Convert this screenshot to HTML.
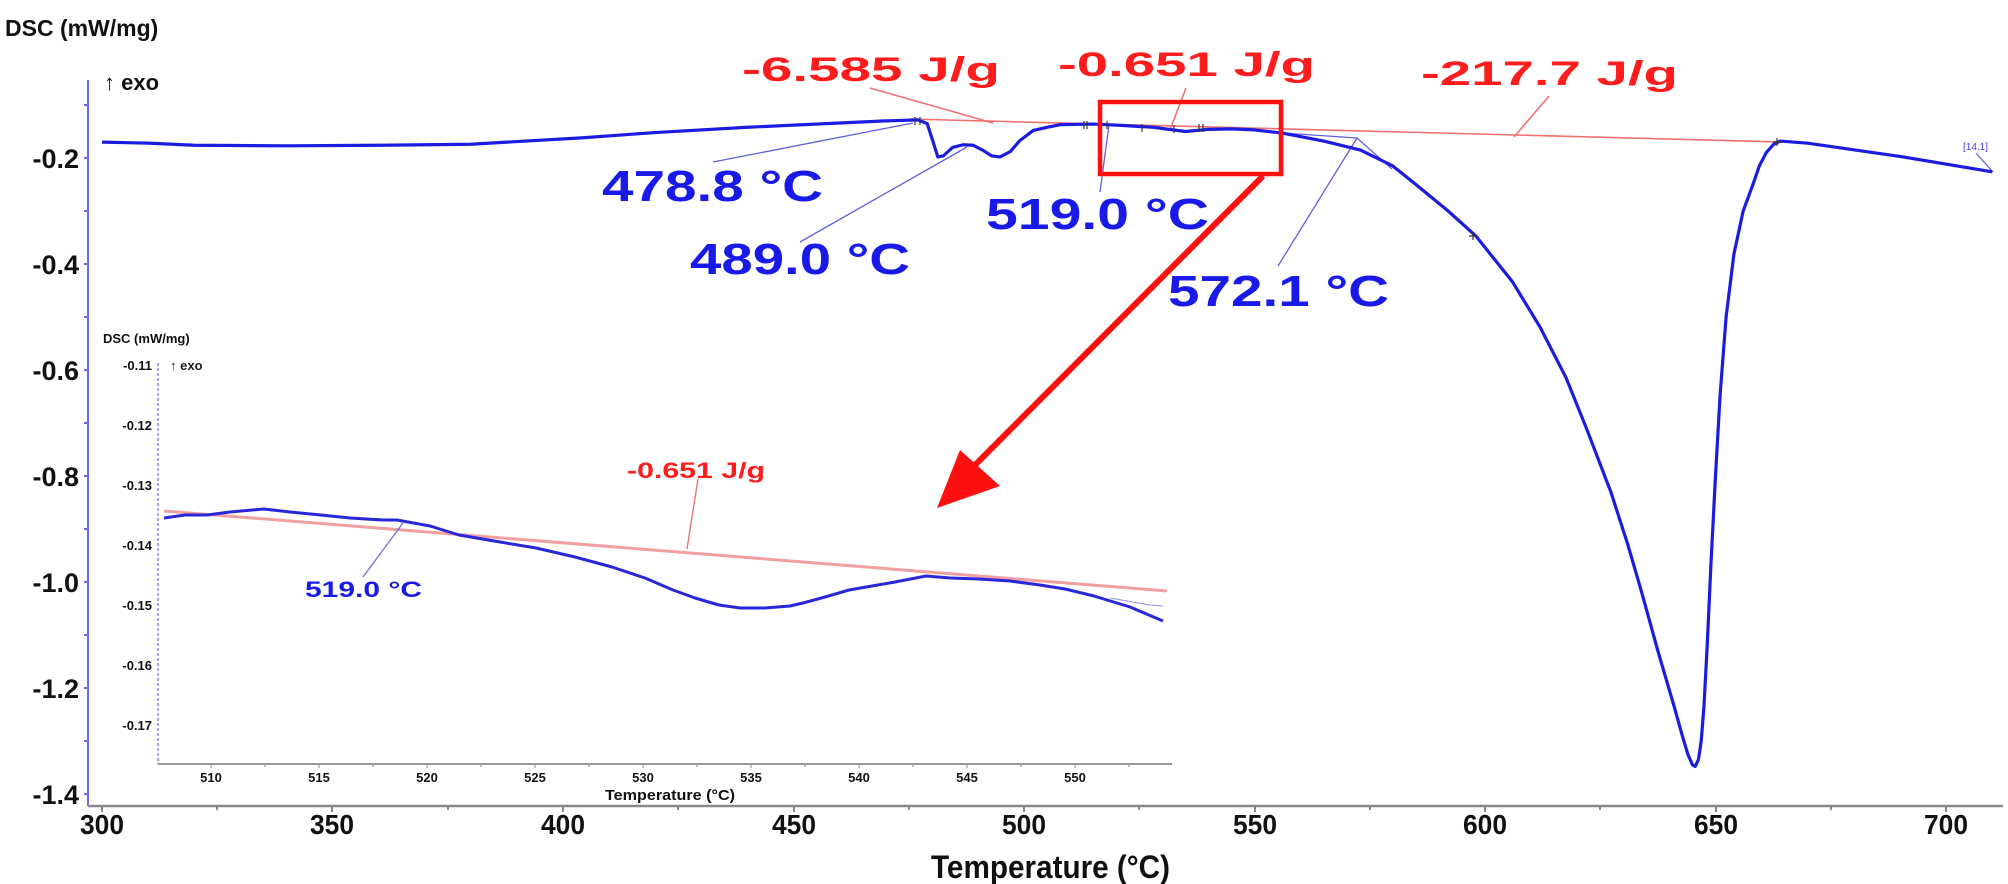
<!DOCTYPE html>
<html><head><meta charset="utf-8"><style>
html,body{margin:0;padding:0;background:#fff;}
svg{display:block;font-family:"Liberation Sans",Arial,sans-serif;font-weight:bold;}
</style></head><body>
<svg width="2008" height="884" viewBox="0 0 2008 884" xmlns="http://www.w3.org/2000/svg">
<text x="5" y="36" font-size="23" fill="#111">DSC  (mW/mg)</text>
<text x="104" y="90" font-size="22" fill="#111" font-weight="normal">↑ <tspan font-weight="bold">exo</tspan></text>
<line x1="88" y1="80" x2="88" y2="806" stroke="#6a6ae8" stroke-width="2"/>
<line x1="88" y1="806" x2="2003" y2="806" stroke="#888" stroke-width="2.5"/>
<g stroke="#6a6ae8" stroke-width="2">
<line x1="84" y1="105" x2="88" y2="105"/><line x1="84" y1="158" x2="88" y2="158"/><line x1="84" y1="211" x2="88" y2="211"/><line x1="84" y1="264" x2="88" y2="264"/><line x1="84" y1="317" x2="88" y2="317"/><line x1="84" y1="370" x2="88" y2="370"/><line x1="84" y1="423" x2="88" y2="423"/><line x1="84" y1="476" x2="88" y2="476"/><line x1="84" y1="529" x2="88" y2="529"/><line x1="84" y1="582" x2="88" y2="582"/><line x1="84" y1="635" x2="88" y2="635"/><line x1="84" y1="688" x2="88" y2="688"/><line x1="84" y1="741" x2="88" y2="741"/><line x1="84" y1="794" x2="88" y2="794"/>
</g>
<g font-size="27" fill="#111" text-anchor="end">
<text x="79" y="168">-0.2</text><text x="79" y="274">-0.4</text><text x="79" y="380">-0.6</text><text x="79" y="486">-0.8</text><text x="79" y="592">-1.0</text><text x="79" y="698">-1.2</text><text x="79" y="804">-1.4</text>
</g>
<g stroke="#888" stroke-width="2">
<line x1="102" y1="806" x2="102" y2="812"/><line x1="217" y1="806" x2="217" y2="810"/><line x1="332" y1="806" x2="332" y2="812"/><line x1="448" y1="806" x2="448" y2="810"/><line x1="563" y1="806" x2="563" y2="812"/><line x1="678" y1="806" x2="678" y2="810"/><line x1="794" y1="806" x2="794" y2="812"/><line x1="909" y1="806" x2="909" y2="810"/><line x1="1024" y1="806" x2="1024" y2="812"/><line x1="1139" y1="806" x2="1139" y2="810"/><line x1="1255" y1="806" x2="1255" y2="812"/><line x1="1370" y1="806" x2="1370" y2="810"/><line x1="1485" y1="806" x2="1485" y2="812"/><line x1="1600" y1="806" x2="1600" y2="810"/><line x1="1716" y1="806" x2="1716" y2="812"/><line x1="1831" y1="806" x2="1831" y2="810"/><line x1="1946" y1="806" x2="1946" y2="812"/>
</g>
<g font-size="28" fill="#111" text-anchor="middle">
<text x="102" y="834" textLength="44" lengthAdjust="spacingAndGlyphs">300</text>
<text x="332" y="834" textLength="44" lengthAdjust="spacingAndGlyphs">350</text>
<text x="563" y="834" textLength="44" lengthAdjust="spacingAndGlyphs">400</text>
<text x="794" y="834" textLength="44" lengthAdjust="spacingAndGlyphs">450</text>
<text x="1024" y="834" textLength="44" lengthAdjust="spacingAndGlyphs">500</text>
<text x="1255" y="834" textLength="44" lengthAdjust="spacingAndGlyphs">550</text>
<text x="1485" y="834" textLength="44" lengthAdjust="spacingAndGlyphs">600</text>
<text x="1716" y="834" textLength="44" lengthAdjust="spacingAndGlyphs">650</text>
<text x="1946" y="834" textLength="44" lengthAdjust="spacingAndGlyphs">700</text>
</g>
<text x="931" y="878" font-size="32" fill="#111" textLength="239" lengthAdjust="spacingAndGlyphs">Temperature (°C)</text>

<g stroke="#f07070" stroke-width="1.6" fill="none">
<line x1="909" y1="119" x2="1781" y2="142"/>
<line x1="870" y1="88" x2="993" y2="123"/>
<line x1="1186" y1="88" x2="1170" y2="130"/>
<line x1="1549" y1="96" x2="1514" y2="137"/>
</g>
<g stroke="#6060e0" stroke-width="1.3" fill="none">
<line x1="713" y1="162" x2="913" y2="123"/>
<line x1="800" y1="242" x2="967" y2="147"/>
<line x1="1100" y1="192" x2="1109" y2="125"/>
<line x1="1278" y1="266" x2="1357" y2="138"/>
<polyline points="1283,133 1357,138 1392,169"/>
<polyline points="1976,153 1993,172"/>
</g>

<g transform="matrix(4.61 0 0 -530 -1281 52)">
<polyline fill="none" stroke="#1c1ce0" stroke-width="3.2" vector-effect="non-scaling-stroke" stroke-linejoin="round" points="300,-0.170 310,-0.172 320,-0.176 340,-0.177 360,-0.176 380,-0.174 404,-0.162 420,-0.152 440,-0.142 460,-0.134 470,-0.130 477,-0.128 479,-0.135 480.3,-0.17 481.3,-0.198 482.5,-0.196 484.5,-0.180 486.8,-0.175 489,-0.176 491,-0.185 493,-0.196 494.8,-0.198 497,-0.188 499,-0.168 502,-0.148 505,-0.142 508,-0.137 515,-0.136 520,-0.138 528,-0.142 535,-0.150 540,-0.146 545,-0.145 550,-0.147 556,-0.153 565,-0.168 573,-0.185 580,-0.215 585,-0.250 592,-0.30 598,-0.347 606,-0.434 612,-0.52 617.6,-0.615 622,-0.71 627.3,-0.83 631,-0.93 634,-1.02 637.5,-1.13 641,-1.234 642.8,-1.29 644,-1.325 645,-1.345 645.6,-1.348 646.3,-1.335 646.9,-1.30 647.5,-1.234 648.2,-1.12 649,-0.968 650,-0.80 651,-0.647 652.3,-0.50 654,-0.381 656,-0.30 658,-0.253 659.5,-0.215 661,-0.19 662.5,-0.175 664,-0.168 670,-0.172 690,-0.197 710,-0.226"/>
</g>
<g stroke="#333" stroke-width="1.2">
<path d="M915 117v8M920 117v8M1084 121v8M1087 121v8M1107 121v8M1142 124v8M1174 125v8M1199 124v8M1203 124v8M1473 232v8M1469 236h8M1777 138v8M1773 142h8"/>
</g>

<g font-size="34" fill="#ff1c1c">
<text x="742" y="81" textLength="258" lengthAdjust="spacingAndGlyphs">-6.585 J/g</text>
<text x="1058" y="76" textLength="257" lengthAdjust="spacingAndGlyphs">-0.651 J/g</text>
<text x="1421" y="85" textLength="257" lengthAdjust="spacingAndGlyphs">-217.7 J/g</text>
</g>
<g font-size="44" fill="#1a1ae8">
<text x="602" y="201" textLength="221" lengthAdjust="spacingAndGlyphs">478.8 °C</text>
<text x="690" y="274" textLength="220" lengthAdjust="spacingAndGlyphs">489.0 °C</text>
<text x="986" y="229" textLength="223" lengthAdjust="spacingAndGlyphs">519.0 °C</text>
<text x="1168" y="306" textLength="221" lengthAdjust="spacingAndGlyphs">572.1 °C</text>
</g>
<text x="1963" y="150" font-size="10" fill="#4040d0" font-weight="normal">[14.1]</text>

<rect x="1100" y="102" width="181" height="72" fill="none" stroke="#ff1010" stroke-width="4.5"/>
<line x1="1263" y1="176" x2="970" y2="470" stroke="#ff1010" stroke-width="6"/>
<polygon points="937,508 960,450 1000,486" fill="#ff1010"/>

<text x="103" y="343" font-size="13" fill="#111">DSC  (mW/mg)</text>
<text x="170" y="370" font-size="13" fill="#222">↑ exo</text>
<line x1="158" y1="363" x2="158" y2="764" stroke="#8080f0" stroke-width="1.5" stroke-dasharray="3,2"/>
<line x1="158" y1="764" x2="1172" y2="764" stroke="#999" stroke-width="2"/>
<g font-size="13" fill="#111" text-anchor="end">
<text x="152" y="370">-0.11</text><text x="152" y="430">-0.12</text><text x="152" y="490">-0.13</text><text x="152" y="550">-0.14</text><text x="152" y="610">-0.15</text><text x="152" y="670">-0.16</text><text x="152" y="730">-0.17</text>
</g>
<g font-size="13" fill="#111" text-anchor="middle">
<text x="211" y="782">510</text><text x="319" y="782">515</text><text x="427" y="782">520</text><text x="535" y="782">525</text><text x="643" y="782">530</text><text x="751" y="782">535</text><text x="859" y="782">540</text><text x="967" y="782">545</text><text x="1075" y="782">550</text>
</g>
<g stroke="#999" stroke-width="1.2">
<path d="M211 764v4M265 764v3M319 764v4M373 764v3M427 764v4M481 764v3M535 764v4M589 764v3M643 764v4M697 764v3M751 764v4M805 764v3M859 764v4M913 764v3M967 764v4M1021 764v3M1075 764v4M1129 764v3"/>
</g>
<text x="605" y="800" font-size="15" fill="#111" textLength="130" lengthAdjust="spacingAndGlyphs">Temperature (°C)</text>
<line x1="164" y1="511" x2="1167" y2="591" stroke="#f0a0a0" stroke-width="3"/>
<line x1="698" y1="479" x2="687" y2="549" stroke="#e07070" stroke-width="1.3"/>
<line x1="363" y1="577" x2="403" y2="523" stroke="#7070e0" stroke-width="1.3"/>
<polyline fill="none" stroke="#2828d8" stroke-width="3" stroke-linejoin="round" points="164,518 185,515 207,515 230,512 264,509 290,512 321,515 350,518 383,520 397,520 430,526 459,535 500,542 536,548 575,557 612,567 645,578 673,590 695,598 719,605 740,608 765,608 790,606 803,603 825,597 849,590 872,586 895,582 926,576 950,578 979,579 1010,581 1040,585 1065,589 1094,596 1130,607 1163,621"/>
<polyline fill="none" stroke="#9090f0" stroke-width="1" points="1110,598 1150,605 1163,606"/>
<text x="627" y="478" font-size="22" fill="#ff1c1c" textLength="138" lengthAdjust="spacingAndGlyphs">-0.651 J/g</text>
<text x="305" y="597" font-size="22" fill="#1a1ae8" textLength="117" lengthAdjust="spacingAndGlyphs">519.0 °C</text>
</svg>
</body></html>
